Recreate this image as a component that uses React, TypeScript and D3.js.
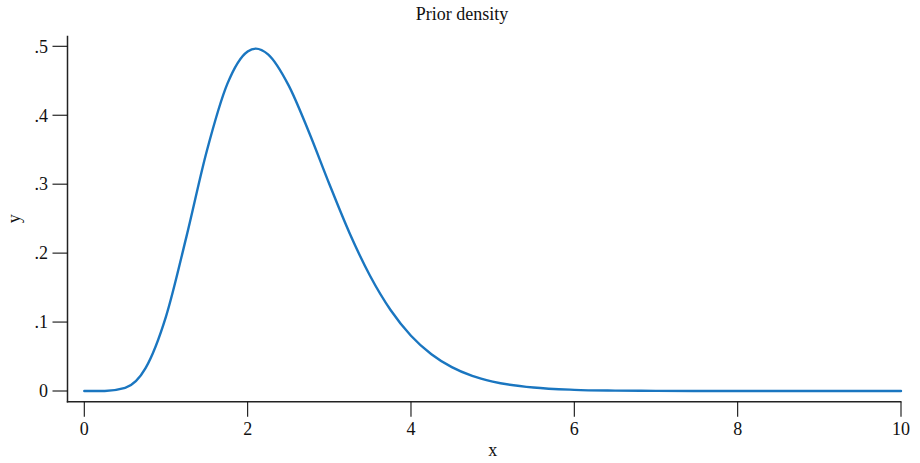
import React from "react";
import * as d3 from "d3";

const title = "Prior density";
const xLabel = "x";
const yLabel = "y";

const xValues = [0, 0.25, 0.5, 0.75, 1, 1.25, 1.5, 1.75, 2, 2.1, 2.25, 2.5, 2.75, 3, 3.25, 3.5, 3.75, 4, 4.25, 4.5, 4.75, 5, 5.5, 6, 6.5, 7, 8, 9, 10];
const yValues = [0, 0.0001, 0.0045, 0.0331, 0.1079, 0.2236, 0.3482, 0.4451, 0.4926, 0.4967, 0.4883, 0.4437, 0.3757, 0.3003, 0.2285, 0.1668, 0.1175, 0.0802, 0.0533, 0.0346, 0.0219, 0.0137, 0.005, 0.0017, 0.0006, 0.0002, 0.00002, 0, 0];

const xTicks = [0, 2, 4, 6, 8, 10];
const yTicks = [0, 0.1, 0.2, 0.3, 0.4, 0.5];
const yTickLabels = ["0", ".1", ".2", ".3", ".4", ".5"];

const W = 920;
const H = 463;
const FONT = "'Liberation Serif', 'Times New Roman', serif";

export default function App() {
  const x = d3.scaleLinear().domain([0, 10]).range([84.3, 901]);
  const y = d3.scaleLinear().domain([0, 0.5]).range([391, 46.3]);
  const axisLeftX = 67.5;
  const axisBottomY = 401.7;
  const axisTopY = 35.7;

  const pts = xValues.map((v, i) => [v, yValues[i]] as [number, number]);
  const line = d3
    .line<[number, number]>()
    .x((d) => x(d[0]))
    .y((d) => y(d[1]))
    .curve(d3.curveMonotoneX);

  const plotCenterX = (x(0) + x(10)) / 2;
  const plotCenterY = (y(0) + y(0.5)) / 2;

  return (
    <svg
      width={W}
      height={H}
      style={{ position: "absolute", left: 0, top: 0, background: "#fff" }}
      fontFamily={FONT}
    >
      <rect x={0} y={0} width={W} height={H} fill="#fff" />
      <text x={W / 2 + 2} y={20} textAnchor="middle" fontSize={18} fill="#111">
        {title}
      </text>

      {/* y axis */}
      <line x1={axisLeftX} x2={axisLeftX} y1={axisTopY} y2={axisBottomY + 0.7} stroke="#222" strokeWidth={1.5} />
      {yTicks.map((t, i) => (
        <g key={"yt" + i}>
          <line x1={axisLeftX - 15} x2={axisLeftX} y1={y(t)} y2={y(t)} stroke="#111" strokeWidth={1.1} />
          <text x={48} y={y(t)} dy="0.35em" textAnchor="end" fontSize={18} fill="#111">
            {yTickLabels[i]}
          </text>
        </g>
      ))}
      <text
        transform={`translate(20, ${plotCenterY}) rotate(-90)`}
        textAnchor="middle"
        fontSize={18}
        fill="#111"
      >
        {yLabel}
      </text>

      {/* x axis */}
      <line x1={axisLeftX - 0.7} x2={x(10) + 0.5} y1={axisBottomY} y2={axisBottomY} stroke="#222" strokeWidth={1.5} />
      {xTicks.map((t, i) => (
        <g key={"xt" + i}>
          <line x1={x(t)} x2={x(t)} y1={axisBottomY} y2={axisBottomY + 15} stroke="#111" strokeWidth={1.1} />
          <text x={x(t)} y={435} textAnchor="middle" fontSize={18} fill="#111">
            {t}
          </text>
        </g>
      ))}
      <text x={plotCenterX} y={456} textAnchor="middle" fontSize={18} fill="#111">
        {xLabel}
      </text>

      <path d={line(pts) || ""} fill="none" stroke="#1a76c0" strokeWidth={2.4} strokeLinejoin="round" strokeLinecap="round" />
    </svg>
  );
}
